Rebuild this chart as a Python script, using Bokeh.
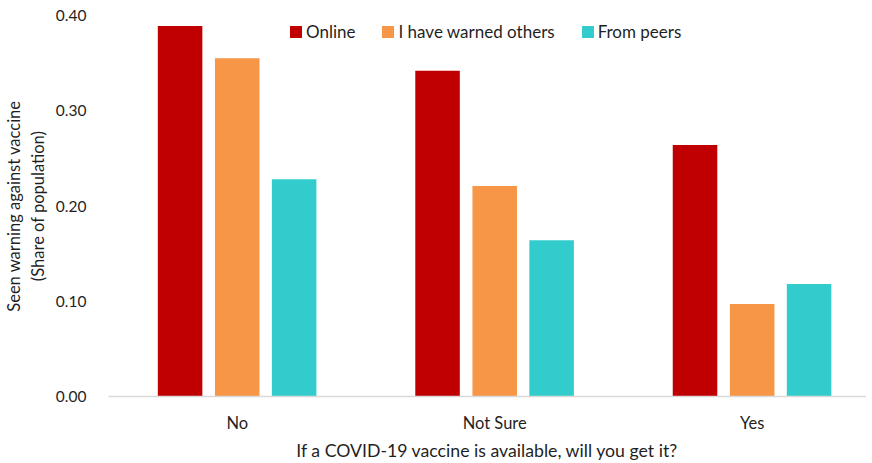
from bokeh.plotting import figure
from bokeh.models import Legend, LegendItem, NumeralTickFormatter, FixedTicker, ColumnDataSource
from bokeh.embed import file_html
from bokeh.resources import INLINE

categories = ["No", "Not Sure", "Yes"]
series_names = ["Online", "I have warned others", "From peers"]
online = [0.389, 0.342, 0.264]
warned = [0.355, 0.221, 0.097]
peers = [0.228, 0.164, 0.118]
colors = ["#C00000", "#F79646", "#33CCCC"]
y_ticks = [0.0, 0.1, 0.2, 0.3, 0.4]

FONT = "Lato"
TXT = "#1f1f1f"

centers = [i + 0.5 for i in range(len(categories))]
offsets = [-0.222, 0.0, 0.221]
bar_w = 0.173

p = figure(x_range=(0, 2.944), y_range=(0, 0.40),
           frame_width=758, frame_height=381, output_backend="svg", toolbar_location=None,
           min_border_left=98, min_border_right=0, min_border_top=15, min_border_bottom=0)

renderers = []
for vals, off, c in zip([online, warned, peers], offsets, colors):
    src = ColumnDataSource(dict(x=[cx + off for cx in centers], top=vals))
    r = p.vbar(x="x", top="top", width=bar_w, source=src, fill_color=c, line_color=None)
    renderers.append(r)

legend = Legend(items=[LegendItem(label=n, renderers=[r]) for n, r in zip(series_names, renderers)],
                orientation="horizontal", location=(180, 354), background_fill_alpha=0,
                border_line_color=None, label_text_font=FONT, label_text_font_size="17px",
                label_text_color=TXT, glyph_width=15, glyph_height=15, spacing=25,
                label_standoff=3)
p.add_layout(legend, "center")

p.xgrid.visible = False
p.ygrid.visible = False
p.outline_line_color = None

p.yaxis.ticker = FixedTicker(ticks=y_ticks)
p.yaxis.formatter = NumeralTickFormatter(format="0.00")
p.yaxis.axis_line_color = None
p.yaxis.major_tick_line_color = None
p.yaxis.minor_tick_line_color = None
p.yaxis.major_label_text_font = FONT
p.yaxis.major_label_text_font_size = "15.5px"
p.yaxis.major_label_text_color = TXT
p.yaxis.major_label_standoff = 16
p.yaxis.axis_label = "Seen warning against vaccine\n(Share of population)"
p.yaxis.axis_label_text_font = FONT
p.yaxis.axis_label_text_font_size = "16.5px"
p.yaxis.axis_label_text_font_style = "normal"
p.yaxis.axis_label_text_color = TXT
p.yaxis.axis_label_standoff = 5

p.xaxis.ticker = FixedTicker(ticks=centers)
p.xaxis.major_label_overrides = {c: name for c, name in zip(centers, categories)}
p.xaxis.axis_line_color = "#D9D9D9"
p.xaxis.axis_line_width = 1.5
p.xaxis.major_tick_line_color = None
p.xaxis.minor_tick_line_color = None
p.xaxis.major_label_text_font = FONT
p.xaxis.major_label_text_font_size = "16.5px"
p.xaxis.major_label_text_color = TXT
p.xaxis.major_label_standoff = 10
p.xaxis.axis_label = "If a COVID-19 vaccine is available, will you get it?"
p.xaxis.axis_label_text_font = FONT
p.xaxis.axis_label_text_font_size = "17.7px"
p.xaxis.axis_label_text_font_style = "normal"
p.xaxis.axis_label_text_color = TXT
p.xaxis.axis_label_standoff = 4

open("out.html", "w").write(file_html(p, INLINE))
